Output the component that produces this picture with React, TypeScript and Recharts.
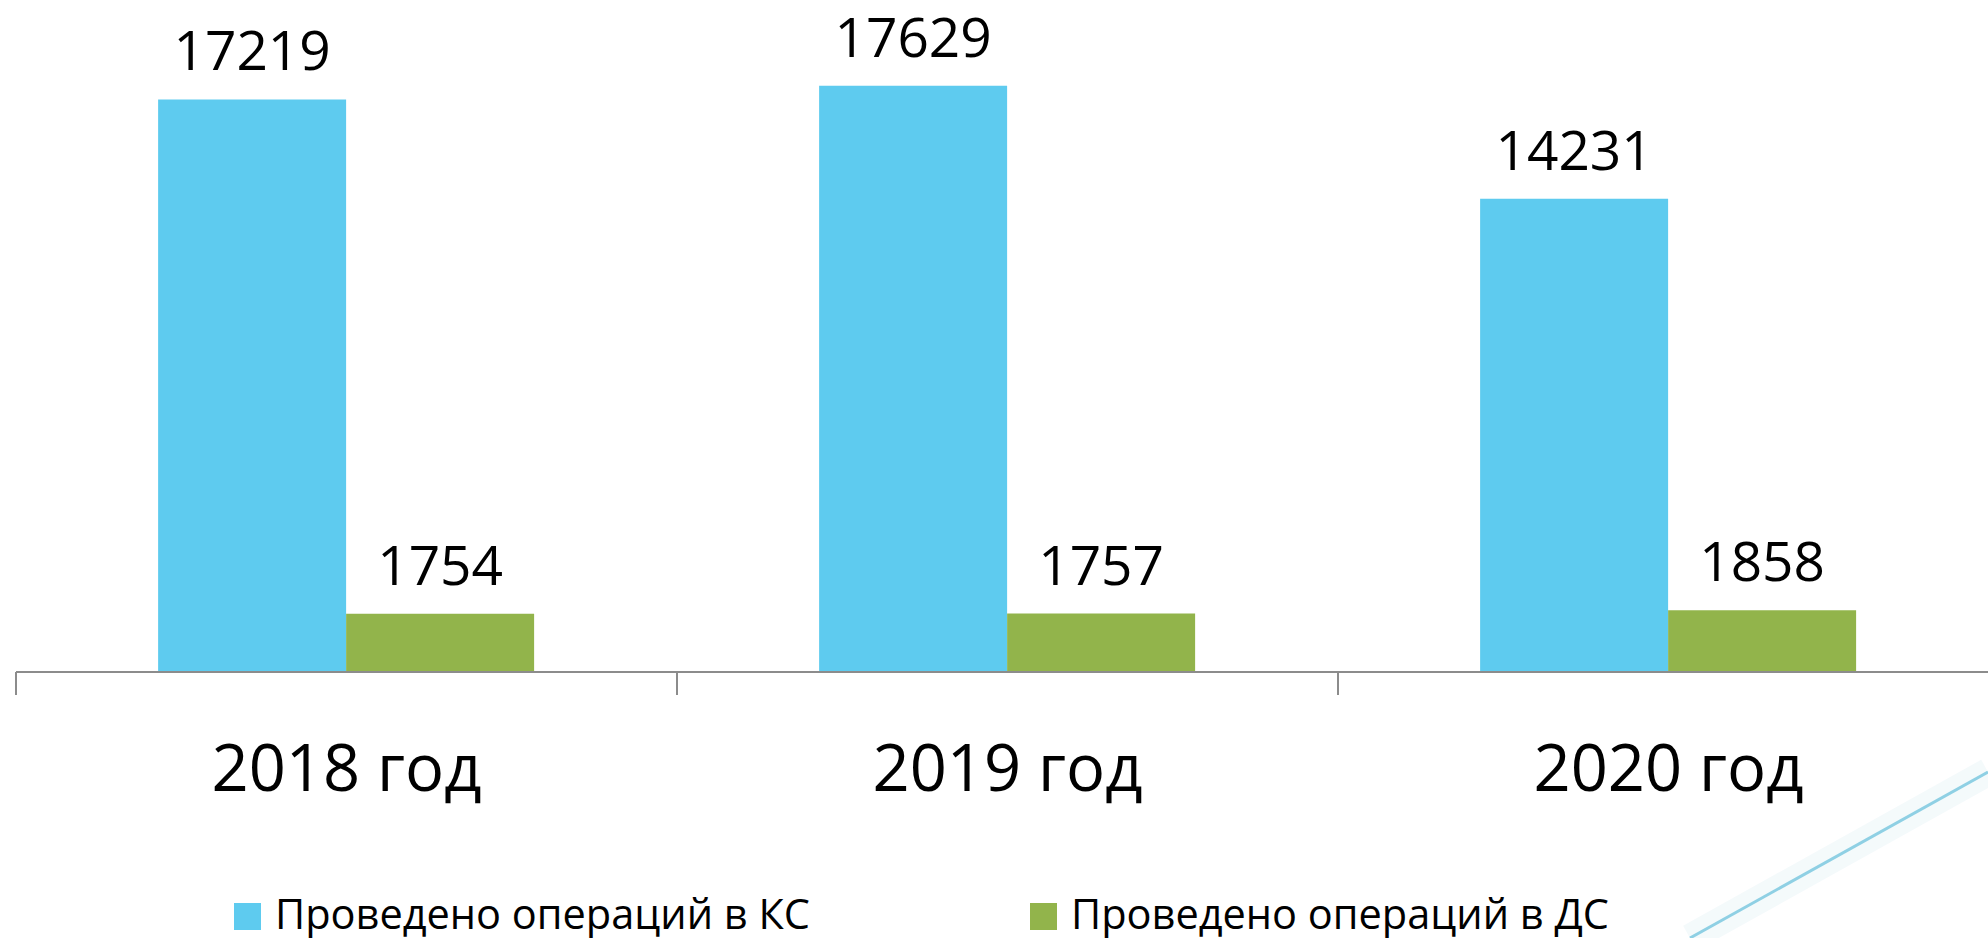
import { BarChart, Bar, XAxis, YAxis, LabelList, Legend } from "recharts";

const years = ["2018 год", "2019 год", "2020 год"];
const ksValues = [17219, 17629, 14231];
const dsValues = [1754, 1757, 1858];
const seriesNames = ["Проведено операций в КС", "Проведено операций в ДС"];
const colors = ["#5ECBEF", "#92B44B"];
const edgeTicks = [0, 1, 2, 3];

// slot = centre of each category on a 0..3 numeric axis used for the boundary ticks
const data = years.map((year, i) => ({
  year,
  slot: i + 0.5,
  ks: ksValues[i],
  ds: dsValues[i],
}));

const FONT = "'Open Sans', 'Noto Sans', sans-serif";
const AXIS_GREY = "#8C8C8C";

function YearTick(props: any) {
  const { x, y, payload } = props;
  return (
    <text x={x} y={y + 118} textAnchor="middle" fontFamily={FONT} fontSize={65} fill="#000">
      {payload.value}
    </text>
  );
}

function EmptyTick() {
  return <g />;
}

function ValueLabel(props: any) {
  const { x, y, width, value } = props;
  return (
    <text x={x + width / 2} y={y - 29} textAnchor="middle" fontFamily={FONT} fontSize={55} fill="#000">
      {value}
    </text>
  );
}

function LegendBox() {
  return (
    <div style={{ display: "flex", fontFamily: FONT, fontSize: 41.5, color: "#000", lineHeight: "50px" }}>
      {seriesNames.map((name, i) => (
        <div key={name} style={{ display: "flex", alignItems: "center", width: i === 0 ? 796 : "auto" }}>
          <span style={{ width: 27, height: 27, background: colors[i], marginRight: 14, display: "inline-block", marginTop: 6 }} />
          <span>{name}</span>
        </div>
      ))}
    </div>
  );
}

export default function App() {
  return (
    <div style={{ position: "fixed", left: 0, top: 0, width: 1988, height: 938, overflow: "hidden", background: "#fff" }}>
      <BarChart
        width={2000}
        height={938}
        data={data}
        margin={{ top: 7, left: 16, right: 1, bottom: 65 }}
        barCategoryGap="21.5%"
        barGap={0}
      >
        <XAxis
          xAxisId="b_cat"
          dataKey="year"
          axisLine={false}
          tickLine={false}
          tickSize={0}
          tickMargin={0}
          interval={0}
          height={200}
          tick={<YearTick />}
        />
        <XAxis
          xAxisId="a_edge"
          dataKey="slot"
          type="number"
          domain={[0, 3]}
          ticks={edgeTicks}
          interval={0}
          tick={<EmptyTick />}
          axisLine={{ stroke: AXIS_GREY, strokeWidth: 2 }}
          tickLine={{ stroke: AXIS_GREY, strokeWidth: 2 }}
          tickSize={23}
          height={1}
        />
        <YAxis hide domain={[0, 20000]} />
        <Legend
          layout="horizontal"
          verticalAlign="middle"
          align="center"
          wrapperStyle={{ left: 234, top: 888, width: 1700 }}
          content={() => <LegendBox />}
        />
        <Bar dataKey="ks" name={seriesNames[0]} xAxisId="b_cat" fill={colors[0]} isAnimationActive={false}>
          <LabelList dataKey="ks" content={<ValueLabel />} />
        </Bar>
        <Bar dataKey="ds" name={seriesNames[1]} xAxisId="b_cat" fill={colors[1]} isAnimationActive={false}>
          <LabelList dataKey="ds" content={<ValueLabel />} />
        </Bar>
      </BarChart>
      <svg width={1988} height={938} style={{ position: "absolute", left: 0, top: 0, pointerEvents: "none" }}>
        <line x1={1690} y1={938} x2={1988} y2={772} stroke="#EEF7FA" strokeWidth={28} opacity={0.6} />
        <line x1={1690} y1={938} x2={1988} y2={772} stroke="#8FD0E4" strokeWidth={3} />
      </svg>
    </div>
  );
}
